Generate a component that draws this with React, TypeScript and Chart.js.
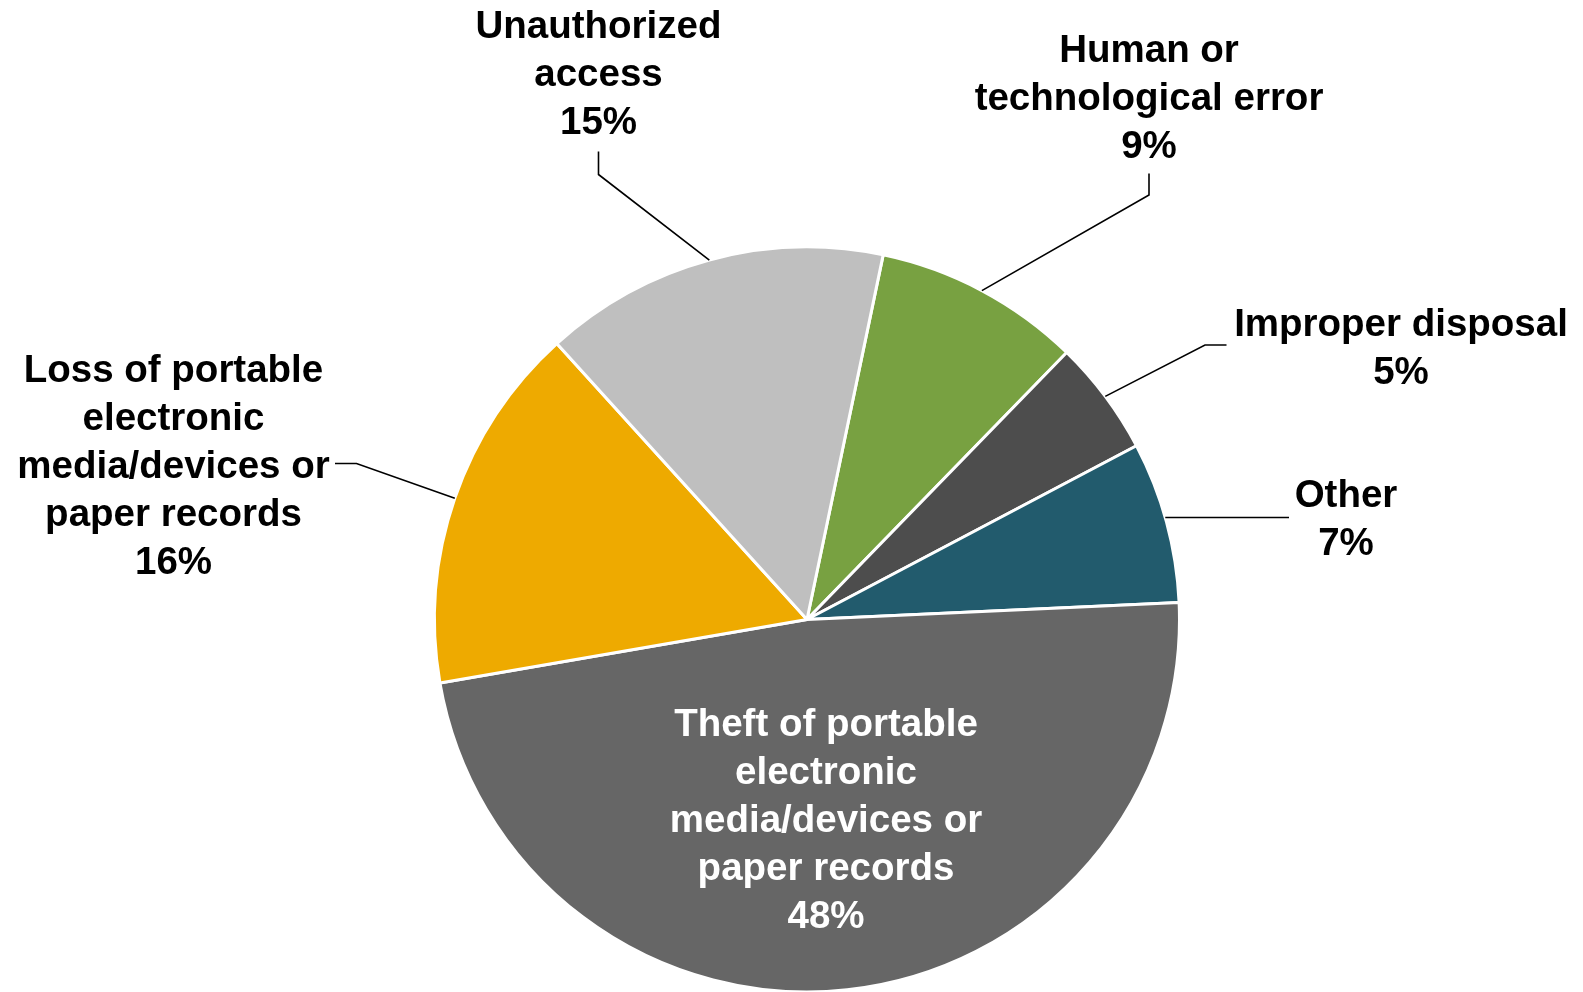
import React, { useEffect, useRef } from "react";
import { Chart, registerables } from "chart.js";

Chart.register(...registerables);

// ---- data ----
const categories: string[][] = [
  ["Human or", "technological error"],
  ["Improper disposal"],
  ["Other"],
  ["Theft of portable", "electronic", "media/devices or", "paper records"],
  ["Loss of portable", "electronic", "media/devices or", "paper records"],
  ["Unauthorized", "access"],
];
const shares: number[] = [9, 5, 7, 48, 16, 15];
const sliceColors: string[] = ["#78A141", "#4D4D4D", "#225B6D", "#666666", "#EEAA00", "#BFBFBF"];

// ---- label layout (offsets from pie centre, px) ----
type LabelLayout = {
  dx: number;
  dy: number; // centre of first text line
  color: string;
  leader?: number[][]; // points from label side towards the slice (offsets from centre)
  horizontal?: boolean; // leader ends on the rim at the same height
};
const labelLayout: LabelLayout[] = [
  { dx: 342, dy: -569.5, color: "#000", leader: [[342, -446], [342, -424.5]] },
  { dx: 594, dy: -295, color: "#000", leader: [[419.5, -274.5], [398, -274.5]] },
  { dx: 539, dy: -124.5, color: "#000", leader: [[482, -102]], horizontal: true },
  { dx: 19, dy: 105, color: "#fff" },
  { dx: -633.5, dy: -249.5, color: "#000", leader: [[-472, -156], [-450.5, -156]] },
  { dx: -208.5, dy: -593, color: "#000", leader: [[-208.5, -468], [-208.5, -445]] },
];

const FONT = 'bold 38.5px "Liberation Sans", Arial, Helvetica, sans-serif';
const LINE_H = 48;

const labelPlugin = {
  id: "pieLabels",
  afterDatasetsDraw(chart: any) {
    const ctx = chart.ctx as CanvasRenderingContext2D;
    const meta = chart.getDatasetMeta(0);
    ctx.save();
    meta.data.forEach((arc: any, i: number) => {
      const p = arc.getProps(["x", "y", "startAngle", "endAngle", "outerRadius"], true);
      const lay = labelLayout[i];
      const cx = p.x;
      const cy = p.y;
      const R = p.outerRadius;
      const mid = (p.startAngle + p.endAngle) / 2;
      let ex = cx + Math.cos(mid) * R;
      let ey = cy + Math.sin(mid) * R;
      if (lay.leader) {
        if (lay.horizontal) {
          const last = lay.leader[lay.leader.length - 1];
          ey = cy + last[1];
          const s = Math.sqrt(Math.max(R * R - last[1] * last[1], 0));
          ex = cx + (last[0] >= 0 ? s : -s);
        }
        ctx.beginPath();
        ctx.strokeStyle = "#000";
        ctx.lineWidth = 1.6;
        lay.leader.forEach((pt, k) => {
          const x = cx + pt[0];
          const y = cy + pt[1];
          if (k === 0) ctx.moveTo(x, y);
          else ctx.lineTo(x, y);
        });
        ctx.lineTo(ex, ey);
        ctx.stroke();
      }
      const lines = [...categories[i], shares[i] + "%"];
      ctx.font = FONT;
      ctx.fillStyle = lay.color;
      ctx.textAlign = "center";
      ctx.textBaseline = "middle";
      lines.forEach((t, k) => {
        ctx.fillText(t, cx + lay.dx, cy + lay.dy + 1 + k * LINE_H);
      });
    });
    ctx.restore();
  },
};

export default function App() {
  const ref = useRef<HTMLCanvasElement | null>(null);
  useEffect(() => {
    if (!ref.current) return;
    const chart = new Chart(ref.current, {
      type: "pie",
      data: {
        labels: categories.map((c) => c.join(" ")),
        datasets: [
          {
            data: shares,
            backgroundColor: sliceColors,
            borderColor: "#ffffff",
            borderWidth: 3,
          },
        ],
      },
      options: {
        responsive: false,
        animation: false,
        rotation: 11.8,
        radius: 372.5,
        layout: { padding: { left: 31, right: 0, top: 247, bottom: 0 } },
        plugins: {
          legend: { display: false },
          tooltip: { enabled: false },
        },
      },
      plugins: [labelPlugin],
    });
    return () => chart.destroy();
  }, []);
  return (
    <div style={{ position: "fixed", left: 0, top: 0, width: 1583, height: 992, background: "#fff" }}>
      <canvas ref={ref} width={1583} height={992} style={{ display: "block" }} />
    </div>
  );
}
